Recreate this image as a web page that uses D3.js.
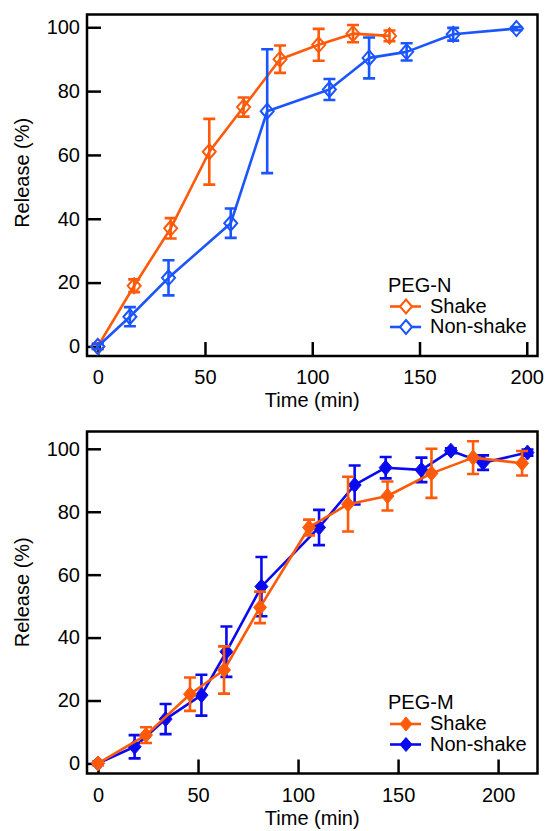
<!DOCTYPE html>
<html>
<head>
<meta charset="utf-8">
<script src="https://cdn.jsdelivr.net/npm/d3@7"></script>
<style>
  body { margin: 0; background: #fff; }
  text { font-family: "Liberation Sans", Arial, Helvetica, sans-serif; }
</style>
</head>
<body>
<div id="chart"></div>
<script>
// PEG-N (top panel)
var topShakeTime = [0, 17, 34, 52, 68, 85, 103, 119, 136];
var topShakeRelease = [0, 19, 37, 61, 75, 90, 94.5, 98, 97.3];
var topShakeErr = [0.8, 2, 3.2, 10.3, 3, 4.3, 5, 2.7, 1.7];

var topNonShakeTime = [0, 15, 33, 62, 79, 108, 126.5, 144, 165.7, 195.2];
var topNonShakeRelease = [0, 9.3, 21.5, 38.6, 73.7, 80.5, 90.4, 92.3, 97.8, 99.6];
var topNonShakeErr = [0.8, 3, 5.5, 4.6, 19.4, 3.3, 6.4, 2.7, 2, 0.5];

// PEG-M (bottom panel)
var botShakeTime = [0, 24, 46, 63, 81, 105.5, 125, 144.7, 166.7, 187.5, 212];
var botShakeRelease = [0, 9, 22, 29.7, 49.6, 75, 82.4, 85, 92.2, 97.2, 95.4];
var botShakeErr = [0.5, 2.5, 5.3, 7.5, 5, 2.5, 8.7, 4.6, 7.8, 5.2, 3.9];

var botNonShakeTime = [0, 18.3, 33.8, 51.7, 64.2, 81.7, 110.5, 128.3, 143.8, 161.7, 176.4, 192.5, 214.7];
var botNonShakeRelease = [0, 5.3, 14.1, 21.7, 35.5, 56.2, 75, 88.5, 94, 93.3, 99.4, 95.6, 98.8];
var botNonShakeErr = [0.5, 3.7, 4.8, 6.5, 8, 9.4, 5.6, 6.2, 3.4, 3.9, 0.8, 2.3, 1];

var xTicks = [0, 50, 100, 150, 200];
var yTicks = [0, 20, 40, 60, 80, 100];
var seriesNames = ["Shake", "Non-shake"];

const width = 547;
const height = 831;
const orange = "#ff5a0a";

var svg = d3.select("#chart")
  .append("svg")
  .attr("width", width)
  .attr("height", height);

function zip(t, r, e) {
  return t.map(function (d, i) { return { t: d, r: r[i], e: e[i] }; });
}

// diamond path, wider than d3.symbolDiamond
function diamond(cx, cy, w, h) {
  return "M" + cx + "," + (cy - h) + "L" + (cx + w) + "," + cy +
    "L" + cx + "," + (cy + h) + "L" + (cx - w) + "," + cy + "Z";
}

function drawPanel(p) {
  var x = d3.scaleLinear().domain(p.xDomain).range([p.x0, p.x1]);
  var y = d3.scaleLinear().domain(p.yDomain).range([p.y1, p.y0]);
  var g = svg.append("g");

  // axes, ticks pointing inward
  g.append("g")
    .attr("transform", `translate(0, ${p.y1})`)
    .call(d3.axisBottom(x).tickValues(xTicks).tickSizeInner(-14).tickSizeOuter(0).tickPadding(14))
    .call(function (a) { a.select(".domain").remove(); })
    .call(function (a) {
      a.selectAll("line").attr("stroke", "#000").attr("stroke-width", 2.5);
      a.selectAll("text").attr("font-size", 20).attr("fill", "#000")
        .attr("font-family", "Liberation Sans, Arial, sans-serif");
    });

  g.append("g")
    .attr("transform", `translate(${p.x0}, 0)`)
    .call(d3.axisLeft(y).tickValues(yTicks).tickSizeInner(-14).tickSizeOuter(0).tickPadding(7))
    .call(function (a) { a.select(".domain").remove(); })
    .call(function (a) {
      a.selectAll("line").attr("stroke", "#000").attr("stroke-width", 2.5);
      a.selectAll("text").attr("font-size", 20).attr("fill", "#000")
        .attr("font-family", "Liberation Sans, Arial, sans-serif");
    });

  // frame
  g.append("rect")
    .attr("x", p.x0)
    .attr("y", p.y0)
    .attr("width", p.x1 - p.x0)
    .attr("height", p.y1 - p.y0)
    .attr("fill", "none")
    .attr("stroke", "#000")
    .attr("stroke-width", 2.5);

  // axis titles
  g.append("text")
    .attr("x", (p.x0 + p.x1) / 2)
    .attr("y", p.y1 + 51)
    .attr("text-anchor", "middle")
    .attr("font-size", 20)
    .text("Time (min)");

  g.append("text")
    .attr("transform", `translate(29, ${y(54.4)}) rotate(-90)`)
    .attr("text-anchor", "middle")
    .attr("font-size", 20)
    .text("Release (%)");

  var line = d3.line()
    .x(function (d) { return x(d.t); })
    .y(function (d) { return y(d.r); });

  p.series.forEach(function (s) {
    var sg = g.append("g");
    sg.append("path")
      .datum(s.data)
      .attr("d", line)
      .attr("fill", "none")
      .attr("stroke", s.color)
      .attr("stroke-width", 2.6)
      .attr("stroke-linejoin", "round");

    // error bars
    var eb = sg.selectAll(".err")
      .data(s.data)
      .join("path")
      .attr("class", "err")
      .attr("d", function (d) {
        var cx = x(d.t), top = y(d.r + d.e), bot = y(d.r - d.e);
        return "M" + cx + "," + top + "V" + bot +
          "M" + (cx - 6) + "," + top + "H" + (cx + 6) +
          "M" + (cx - 6) + "," + bot + "H" + (cx + 6);
      })
      .attr("fill", "none")
      .attr("stroke", s.color)
      .attr("stroke-width", 2.6);

    sg.selectAll(".mark")
      .data(s.data)
      .join("path")
      .attr("class", "mark")
      .attr("d", function (d) {
        return p.filled ? diamond(x(d.t), y(d.r), 6.5, 7.5) : diamond(x(d.t), y(d.r), 6.5, 7.5);
      })
      .attr("fill", p.filled ? s.color : "none")
      .attr("stroke", s.color)
      .attr("stroke-width", p.filled ? 1 : 2);
  });

  // legend
  var lx = p.x1 - 149.5, ly = p.y1 - 64.5;
  g.append("text")
    .attr("x", lx)
    .attr("y", ly)
    .attr("font-size", 20)
    .text(p.title);

  var legendG = g.selectAll(".legend")
    .data(p.legend)
    .enter().append("g")
    .attr("class", "legend")
    .attr("transform", function (d, i) {
      return "translate(" + lx + "," + (ly + 15 + i * 20.5) + ")";
    });

  legendG.append("line")
    .attr("x1", 2).attr("x2", 33)
    .attr("stroke", function (d) { return d.color; })
    .attr("stroke-width", 2.6);

  legendG.append("path")
    .attr("d", diamond(18, 0, 6, 7))
    .attr("fill", function (d) { return p.filled ? d.color : "#fff"; })
    .attr("stroke", function (d) { return d.color; })
    .attr("stroke-width", p.filled ? 1 : 2);

  legendG.append("text")
    .attr("x", 42)
    .attr("dy", "0.32em")
    .attr("font-size", 20)
    .text(function (d) { return d.name; });
}

var topBlue = "#1a55ff";
var botBlue = "#0a0af0";

drawPanel({
  x0: 87, x1: 537.5, y0: 14.5, y1: 356,
  xDomain: [-5, 205], yDomain: [-3, 104],
  title: "PEG-N", filled: false,
  series: [
    { color: orange, data: zip(topShakeTime, topShakeRelease, topShakeErr) },
    { color: topBlue, data: zip(topNonShakeTime, topNonShakeRelease, topNonShakeErr) }
  ],
  legend: [{ name: seriesNames[0], color: orange }, { name: seriesNames[1], color: topBlue }]
});

drawPanel({
  x0: 87, x1: 537.5, y0: 431.5, y1: 773.5,
  xDomain: [-5.5, 219.7], yDomain: [-3.2, 105.5],
  title: "PEG-M", filled: true,
  series: [
    { color: botBlue, data: zip(botNonShakeTime, botNonShakeRelease, botNonShakeErr) },
    { color: orange, data: zip(botShakeTime, botShakeRelease, botShakeErr) }
  ],
  legend: [{ name: seriesNames[0], color: orange }, { name: seriesNames[1], color: botBlue }]
});
</script>
</body>
</html>
